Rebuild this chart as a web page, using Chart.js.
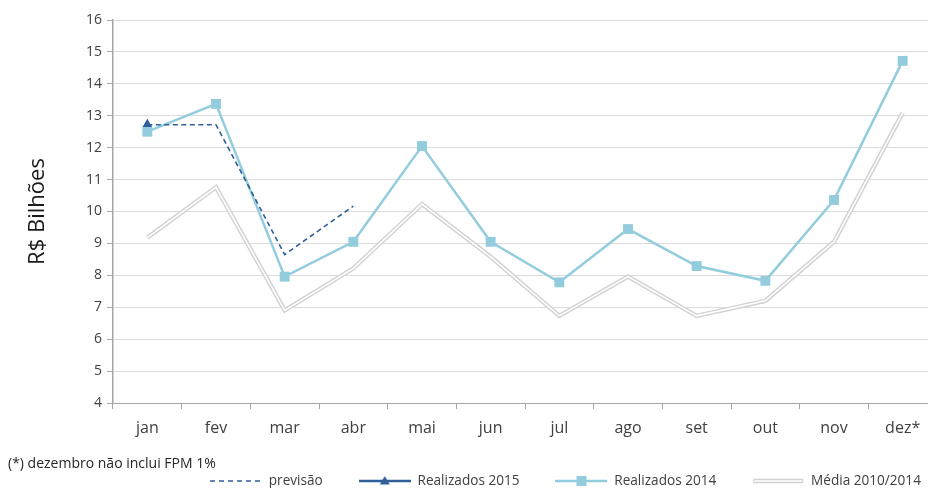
<!DOCTYPE html>
<html><head><meta charset="utf-8">
<script src="https://cdn.jsdelivr.net/npm/chart.js@4"></script>
<style>
html,body{margin:0;padding:0;background:#fff;overflow:hidden;width:928px;height:488px;}
#wrap{position:absolute;left:0;top:0;width:944px;height:488px;}
#note{position:absolute;left:8px;top:453px;font:14px 'Open Sans',sans-serif;color:#262626;white-space:nowrap;}
</style></head><body>
<div id="wrap"><canvas id="c" width="944" height="488"></canvas></div>
<div id="note">(*) dezembro não inclui FPM 1%</div>
<script>
const categories = ['jan','fev','mar','abr','mai','jun','jul','ago','set','out','nov','dez*'];
const previsao = [12.72, 12.72, 8.65, 10.17, null, null, null, null, null, null, null, null];
const realizados2015 = [12.73, null, null, null, null, null, null, null, null, null, null, null];
const realizados2014 = [12.5, 13.37, 7.96, 9.05, 12.05, 9.05, 7.78, 9.45, 8.29, 7.83, 10.36, 14.72];
const media2010_2014 = [9.18, 10.76, 6.9, 8.22, 10.23, 8.58, 6.73, 7.96, 6.73, 7.2, 9.05, 13.09];
const seriesNames = ['previsão', 'Realizados 2015', 'Realizados 2014', 'Média 2010/2014'];

const C_DARK = '#2f5e98';
const C_LIGHT = '#93cddd';
const C_GRAY = '#d2d2d2';
const TXT = '#404040';

function symbol(kind){
  const cv = document.createElement('canvas');
  cv.width = 52; cv.height = 14;
  const g = cv.getContext('2d');
  const y = 7;
  if (kind === 0){
    g.strokeStyle = C_DARK; g.lineWidth = 1.6; g.setLineDash([5,4]);
    g.beginPath(); g.moveTo(0,y); g.lineTo(52,y); g.stroke();
  } else if (kind === 1){
    g.strokeStyle = C_DARK; g.lineWidth = 2.5;
    g.beginPath(); g.moveTo(0,y); g.lineTo(52,y); g.stroke();
    g.fillStyle = C_DARK; g.beginPath(); g.moveTo(26,y-5); g.lineTo(31,y+3.5); g.lineTo(21,y+3.5); g.closePath(); g.fill();
  } else if (kind === 2){
    g.strokeStyle = C_LIGHT; g.lineWidth = 2.5;
    g.beginPath(); g.moveTo(0,y); g.lineTo(52,y); g.stroke();
    g.fillStyle = C_LIGHT; g.fillRect(21,y-5,10,10);
  } else {
    g.strokeStyle = C_GRAY; g.lineWidth = 4.5;
    g.beginPath(); g.moveTo(1,y); g.lineTo(51,y); g.stroke();
    g.strokeStyle = '#fff'; g.lineWidth = 1.6;
    g.beginPath(); g.moveTo(2,y); g.lineTo(50,y); g.stroke();
  }
  return cv;
}
const legendSymbols = [0,1,2,3].map(symbol);

const LEGEND_START = 210, LEGEND_MIDY = 481;
const legendShift = {
  id: 'legendShift',
  afterLayout(chart){
    const lg = chart.legend; if (!lg) return;
    const pad = lg.options.labels.padding;
    const fs = lg.options.labels.font.size;
    const dx = LEGEND_START - (lg.left + pad);
    const dy = LEGEND_MIDY - (lg.top + pad + fs/2);
    lg.left += dx; lg.right += dx; lg.top += dy;
    lg.bottom = lg.top + pad + fs + 12;
    lg.height = lg.bottom - lg.top;
    lg.width = lg.right - lg.left;
  }
};
const doubleLine = {
  id: 'doubleLine',
  afterDatasetDraw(chart, args){
    const ds = chart.data.datasets[args.index];
    if (!ds.isDouble) return;
    const pts = args.meta.data;
    const ctx = chart.ctx;
    ctx.save();
    ctx.strokeStyle = '#ffffff'; ctx.lineWidth = 1.6; ctx.lineJoin = 'miter';
    ctx.beginPath();
    pts.forEach((p,i)=>{ if(i===0) ctx.moveTo(p.x,p.y); else ctx.lineTo(p.x,p.y); });
    ctx.stroke();
    ctx.restore();
  }
};

new Chart(document.getElementById('c'), {
  type: 'line',
  data: {
    labels: categories,
    datasets: [
      { label: seriesNames[0], data: previsao, borderColor: C_DARK, borderWidth: 1.6, borderDash: [5,3.5], pointRadius: 0, fill: false, spanGaps: false },
      { label: seriesNames[1], data: realizados2015, borderColor: C_DARK, backgroundColor: C_DARK, borderWidth: 2.5, pointStyle: 'triangle', pointRadius: 5.5, pointBorderWidth: 0, fill: false },
      { label: seriesNames[2], data: realizados2014, borderColor: C_LIGHT, backgroundColor: C_LIGHT, borderWidth: 2.5, pointStyle: 'rect', pointRadius: 7, pointBorderWidth: 0, fill: false },
      { label: seriesNames[3], data: media2010_2014, borderColor: C_GRAY, borderWidth: 4.5, pointRadius: 0, fill: false, isDouble: true }
    ]
  },
  options: {
    responsive: false,
    animation: false,
    devicePixelRatio: 1,
    layout: { padding: { top: 20, left: 0, right: 3, bottom: 0 } },
    plugins: {
      tooltip: { enabled: false },
      legend: {
        position: 'bottom',
        align: 'start',
        maxHeight: 1,
        labels: {
          usePointStyle: true,
          pointStyleWidth: 52,
          padding: 36,
          color: TXT,
          font: { family: "'Open Sans'", size: 13.6 },
          generateLabels(chart){
            return chart.data.datasets.map((ds,i)=>({
              text: ds.label, pointStyle: legendSymbols[i], fillStyle: 'transparent', strokeStyle: 'transparent', lineWidth: 0, hidden: false, datasetIndex: i, fontColor: TXT
            }));
          }
        }
      }
    },
    scales: {
      x: {
        offset: true,
        grid: { offset: true, drawOnChartArea: false, drawTicks: true, tickLength: 6, tickColor: '#a6a6a6' },
        border: { color: '#a6a6a6', width: 1 },
        ticks: { color: TXT, font: { family: "'Open Sans'", size: 16 }, padding: 10, maxRotation: 0, autoSkip: false },
        afterFit(s){ s.height = 84; }
      },
      y: {
        min: 4, max: 16,
        ticks: { stepSize: 1, color: TXT, font: { family: "'Open Sans'", size: 14 }, padding: 5 },
        grid: { color: '#dcdcdc', lineWidth: 1, drawTicks: true, tickLength: 6, tickColor: '#a6a6a6' },
        border: { color: '#a6a6a6', width: 1.5 },
        title: { display: true, text: 'R$ Bilhões', color: '#1a1a1a', font: { family: "'Open Sans'", size: 22 }, padding: { top: 25, bottom: 0 } },
        afterFit(s){ s.width = 113; }
      }
    }
  },
  plugins: [legendShift, doubleLine]
});
</script>
</body></html>
